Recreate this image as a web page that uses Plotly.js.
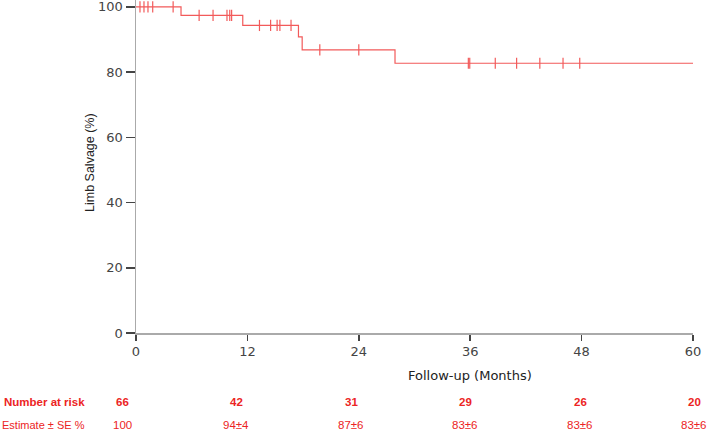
<!DOCTYPE html>
<html>
<head>
<meta charset="utf-8">
<script src="https://cdn.plot.ly/plotly-3.0.1.min.js"></script>
<style>html,body{margin:0;padding:0;background:#fff;}#chart{width:708px;height:432px;}</style>
</head>
<body>
<div id="chart"></div>
<script>
// Kaplan-Meier step curve (months, limb salvage %)
var stepTimes = [0, 4.85, 11.5, 17.5, 17.9, 27.9, 60];
var stepSurv  = [100, 97.4, 94.3, 90.8, 86.8, 82.7, 82.7];

// Censored observations
var censorTimes = [0.43, 0.86, 1.29, 1.8, 4.0,
                   6.8, 8.3, 9.8, 10.1, 10.3,
                   13.3, 14.5, 15.2, 15.5, 16.7,
                   19.8, 24.0,
                   35.8, 35.95, 38.7, 41.0, 43.5, 46.0, 47.8];
var censorSurv  = [100, 100, 100, 100, 100,
                   97.4, 97.4, 97.4, 97.4, 97.4,
                   94.3, 94.3, 94.3, 94.3, 94.3,
                   86.8, 86.8,
                   82.7, 82.7, 82.7, 82.7, 82.7, 82.7, 82.7];

// Table below chart
var xTicks = [0, 12, 24, 36, 48, 60];
var yTicks = [0, 20, 40, 60, 80, 100];
var numberAtRisk = ['66', '42', '31', '29', '26', '20'];
var estimates = ['100', '94±4', '87±6', '83±6', '83±6', '83±6'];

// table column centres (pixels in the 708-wide picture)
var tableColPx = [122, 236, 351, 465, 580, 694];
var plotLeft = 136, plotW = 557, plotBottom = 333;
function px2paperX(p) { return (p - plotLeft) / plotW; }
function px2paperY(p) { return (plotBottom - p) / plotBottom; }

var red = '#f25a5a';
var tableRed = '#ec2424';
var sans = 'Liberation Sans, Arial, sans-serif';

var traces = [
  {x: stepTimes, y: stepSurv, mode: 'lines', line: {shape: 'hv', color: red, width: 1.2}, hoverinfo: 'skip', showlegend: false},
  {x: censorTimes, y: censorSurv, mode: 'markers', marker: {symbol: 'line-ns', size: 8, line: {color: red, width: 1.2}}, cliponaxis: false, hoverinfo: 'skip', showlegend: false}
];

var ann = [];
ann.push({xref: 'paper', yref: 'paper', x: px2paperX(87), y: px2paperY(402), xanchor: 'right', yanchor: 'middle', showarrow: false,
  text: '<b>Number at risk</b>', font: {family: sans, size: 11.5, color: tableRed}});
ann.push({xref: 'paper', yref: 'paper', x: px2paperX(87), y: px2paperY(425), xanchor: 'right', yanchor: 'middle', showarrow: false,
  text: 'Estimate ± SE %', font: {family: sans, size: 11, color: tableRed}});
for (var i = 0; i < numberAtRisk.length; i++) {
  ann.push({xref: 'paper', yref: 'paper', x: px2paperX(tableColPx[i]), y: px2paperY(402), xanchor: 'center', yanchor: 'middle', showarrow: false,
    text: '<b>' + numberAtRisk[i] + '</b>', font: {family: sans, size: 11.5, color: tableRed}});
  ann.push({xref: 'paper', yref: 'paper', x: px2paperX(tableColPx[i]), y: px2paperY(425), xanchor: 'center', yanchor: 'middle', showarrow: false,
    text: estimates[i], font: {family: sans, size: 11.5, color: tableRed}});
}
ann.push({xref: 'paper', yref: 'paper', x: px2paperX(470), y: px2paperY(375), xanchor: 'center', yanchor: 'middle', showarrow: false,
  text: 'Follow-up (Months)', font: {family: 'DejaVu Sans, sans-serif', size: 13, color: '#222'}});
ann.push({xref: 'paper', yref: 'paper', x: px2paperX(90), y: px2paperY(163), xanchor: 'center', yanchor: 'middle', showarrow: false,
  textangle: -90, text: 'Limb Salvage (%)', font: {family: sans, size: 12.5, color: '#222'}});

var layout = {
  width: 708, height: 432,
  margin: {l: 136, r: 15, t: 0, b: 99, pad: 0},
  paper_bgcolor: '#fff', plot_bgcolor: '#fff',
  showlegend: false,
  xaxis: {
    range: [0, 60], tickvals: xTicks, ticktext: xTicks.map(String),
    showgrid: false, zeroline: false, showline: true, linecolor: '#aaa', linewidth: 1.5,
    ticks: 'outside', ticklen: 6, tickwidth: 1.5, tickcolor: '#444',
    ticklabeloverflow: 'allow',
    tickfont: {family: 'DejaVu Sans, sans-serif', size: 13, color: '#444'}
  },
  yaxis: {
    range: [0, 102.1], tickvals: yTicks, ticktext: yTicks.map(String),
    showgrid: false, zeroline: false, showline: true, linecolor: '#aaa', linewidth: 1.5,
    ticks: 'outside', ticklen: 9, tickwidth: 1.5, tickcolor: '#444',
    ticklabeloverflow: 'allow',
    tickfont: {family: 'DejaVu Sans, sans-serif', size: 13, color: '#444'}
  },
  annotations: ann
};

Plotly.newPlot('chart', traces, layout, {displayModeBar: false, staticPlot: true});
</script>
</body>
</html>
